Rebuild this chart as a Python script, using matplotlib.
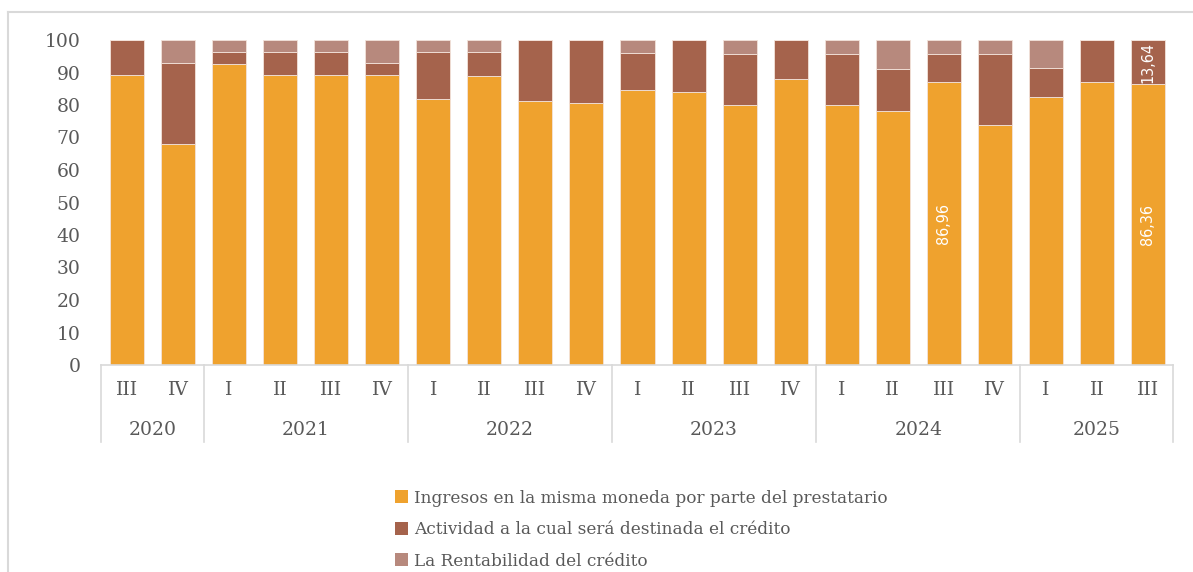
import numpy as np
import matplotlib.pyplot as plt
from matplotlib.transforms import blended_transform_factory
from matplotlib.lines import Line2D
from matplotlib.patches import Patch

quarters = ["III", "IV",
            "I", "II", "III", "IV",
            "I", "II", "III", "IV",
            "I", "II", "III", "IV",
            "I", "II", "III", "IV",
            "I", "II", "III"]
years = ["2020", "2021", "2022", "2023", "2024", "2025"]
year_sizes = [2, 4, 4, 4, 4, 3]

ingresos = [89.3, 67.9, 92.6, 89.3, 89.3, 89.3,
            81.8, 88.9, 81.3, 80.6,
            84.5, 83.9, 79.9, 87.9,
            79.9, 78.2, 86.96, 73.91,
            82.61, 86.96, 86.36]
actividad = [10.7, 25.0, 3.7, 7.1, 7.1, 3.6,
             14.5, 7.4, 18.7, 19.4,
             11.4, 16.1, 15.9, 12.1,
             15.9, 13.0, 8.70, 21.74,
             8.70, 13.04, 13.64]
rentabilidad = [0.0, 7.1, 3.7, 3.6, 3.6, 7.1,
                3.7, 3.7, 0.0, 0.0,
                4.1, 0.0, 4.2, 0.0,
                4.2, 8.8, 4.35, 4.35,
                8.70, 0.0, 0.0]

series_names = ["Ingresos en la misma moneda por parte del prestatario",
                "Actividad a la cual será destinada el crédito",
                "La Rentabilidad del crédito"]
colors = ["#EFA22E", "#A5634C", "#B7897D"]

# (bar index, series index) that carry a value label
labelled = [(16, 0), (20, 0), (20, 1)]

plt.rcParams["font.family"] = ["DejaVu Serif"]
txt_color = "#595959"
grid_color = "#D9D9D9"

fig = plt.figure(figsize=(11.93, 5.72), dpi=100)
W, H = 1193, 572
ax = fig.add_axes([101.5 / W, 1 - 365 / H, (1173.5 - 101.5) / W, 325 / H])

x = np.arange(len(quarters))
stack = [np.array(ingresos), np.array(actividad), np.array(rentabilidad)]
bottom = np.zeros(len(x))
bars = []
for vals, c in zip(stack, colors):
    b = ax.bar(x, vals, bottom=bottom, width=0.667, color=c,
               edgecolor="#F3E3DA", linewidth=0.6)
    bars.append(b)
    bottom = bottom + vals

for i, s in labelled:
    rect = bars[s][i]
    yc = rect.get_y() + rect.get_height() / 2
    ax.text(i, yc, f"{stack[s][i]:.2f}".replace(".", ","), rotation=90,
            ha="center", va="center", color="white", fontsize=11.5,
            family="DejaVu Sans", fontstretch="condensed")

ax.set_xlim(-0.5, len(x) - 0.5)
ax.set_ylim(0, 100)
ax.set_yticks(range(0, 101, 10))
ax.tick_params(axis="y", length=0, pad=15, labelsize=13.5, labelcolor=txt_color)
ax.set_xticks([])
for side in ["top", "right", "left"]:
    ax.spines[side].set_visible(False)
ax.spines["bottom"].set_color(grid_color)
ax.spines["bottom"].set_linewidth(1.2)

# two-level category axis: quarters and years
tr = blended_transform_factory(ax.transData, ax.transAxes)
for i, q in enumerate(quarters):
    ax.text(i, -25 / 325, q, transform=tr, ha="center", va="center",
            fontsize=13.5, color=txt_color)
edges = np.concatenate([[0], np.cumsum(year_sizes)]) - 0.5
for k, yr in enumerate(years):
    ax.text((edges[k] + edges[k + 1]) / 2, -65 / 325, yr, transform=tr,
            ha="center", va="center", fontsize=13.5, color=txt_color)
for e in edges:
    ax.add_line(Line2D([e, e], [0, -77 / 325], transform=tr, color=grid_color,
                       linewidth=1.2, clip_on=False))

# outer chart frame
fig.add_artist(Line2D([8 / W, 1], [1 - 12 / H, 1 - 12 / H],
                      transform=fig.transFigure, color=grid_color, linewidth=1.5))
fig.add_artist(Line2D([8 / W, 8 / W], [0, 1 - 12 / H],
                      transform=fig.transFigure, color=grid_color, linewidth=1.5))

handles = [Patch(facecolor=c, edgecolor="none") for c in colors]
fig.legend(handles, series_names, loc="upper left",
           bbox_to_anchor=(388 / W, 1 - 483 / H), frameon=False,
           fontsize=12.2, labelcolor=txt_color, handlelength=0.8,
           handleheight=0.8, handletextpad=0.35, labelspacing=0.85,
           borderaxespad=0)

fig.savefig("out.png", dpi=100)
